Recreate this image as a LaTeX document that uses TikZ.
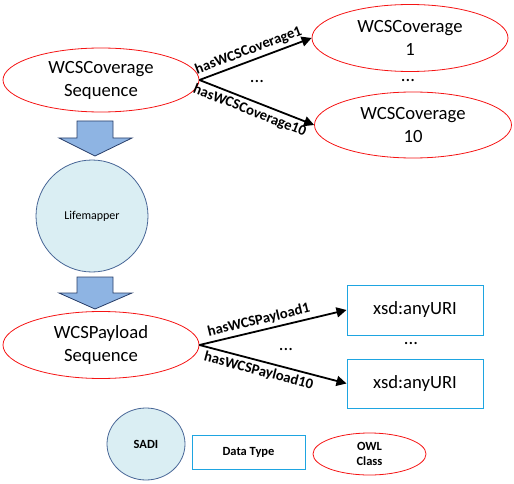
\documentclass[tikz,border=0pt]{standalone}
\usepackage{fontspec}
\setmainfont{Carlito}
\usetikzlibrary{shapes.geometric,arrows.meta}
\definecolor{owlred}{RGB}{245,20,20}
\definecolor{typeblue}{RGB}{30,165,225}
\definecolor{sadifill}{RGB}{218,238,243}
\definecolor{sadiline}{RGB}{72,102,150}
\definecolor{stepfill}{RGB}{142,180,227}
\definecolor{stepline}{RGB}{40,62,105}

\begin{document}
\begin{tikzpicture}[x=1pt,y=-1pt,->,>={Triangle[length=10pt,width=10pt]}]
    \tikzstyle{every node}=[inner sep=0pt]
    \tikzstyle{owl class}=[ellipse,draw=owlred,line width=0.8pt,align=center,
        font=\fontsize{18.67}{23}\selectfont]
    \tikzstyle{data type}=[rectangle,draw=typeblue,line width=1pt,
        font=\fontsize{18.67}{23}\selectfont]
    \tikzstyle{sadi service}=[ellipse,draw=sadiline,fill=sadifill,line width=0.8pt,
        font=\fontsize{12}{14}\selectfont]
    \tikzstyle{property}=[line width=1.8pt,black]
    \tikzstyle{prop label}=[sloped,inner sep=1.5pt,font=\bfseries\fontsize{14.7}{16}\selectfont]
    \tikzstyle{dots}=[font=\fontsize{18.67}{23}\selectfont]
    \tikzstyle{legend}=[font=\bfseries\fontsize{12.5}{15}\selectfont,align=center]
    \tikzstyle{flow}=[-,draw=stepline,fill=stepfill,line width=0.8pt]

    \useasboundingbox (0,0) rectangle (514,484);

    % Coverage sequence and its members
    \node[owl class,minimum width=196pt,minimum height=64pt] (S) at (101,80) {WCSCoverage\\Sequence};
    \node[owl class,minimum width=196pt,minimum height=67pt] (C-1) at (410,38) {WCSCoverage\\1};
    \node[owl class,minimum width=197pt,minimum height=66pt] (C-10) at (413,125) {WCSCoverage\\10};
    \node[dots] (d-1) at (257,82) {...};
    \node[dots] (d-2) at (408,81) {...};

    \draw[property] (S.east) -- (C-1.west)
        node[prop label,pos=0.47,above=1.5pt] {hasWCSCoverage1};
    \draw[property] (S.east) -- (C-10.west)
        node[prop label,pos=0.47,below=1.5pt] {hasWCSCoverage10};

    % The service
    \node[sadi service,minimum width=112pt,minimum height=112pt] (L) at (92,216) {Lifemapper};

    % Block arrows into and out of the service
    \foreach \t / \h / \b in {121/138/156, 277/293/309}
        \draw[flow] (77,\t) -- (113,\t) -- (113,\h) -- (132,\h) -- (95,\b)
            -- (59,\h) -- (77,\h) -- cycle;

    % Payload sequence and its members
    \node[owl class,minimum width=196pt,minimum height=67pt] (P) at (101,345) {WCSPayload\\Sequence};
    \node[data type,minimum width=136pt,minimum height=50pt] (U-1) at (415,310) {xsd:anyURI};
    \node[data type,minimum width=136pt,minimum height=49pt] (U-10) at (415,383.5) {xsd:anyURI};
    \node[dots] (d-3) at (286,350) {...};
    \node[dots] (d-4) at (411,344) {...};

    \draw[property] (P.east) -- (U-1.west)
        node[prop label,pos=0.42,above=1.5pt] {hasWCSPayload1};
    \draw[property] (P.east) -- (U-10.west)
        node[prop label,pos=0.42,below=1.5pt] {hasWCSPayload10};

    % Legend
    \node[sadi service,legend,minimum width=78pt,minimum height=72pt] (k-1) at (146,444) {SADI};
    \node[data type,legend,minimum width=113pt,minimum height=34pt] (k-2) at (248.5,452) {Data Type};
    \node[owl class,legend,minimum width=113pt,minimum height=42pt] (k-3) at (369.5,454) {OWL\\Class};
\end{tikzpicture}
\end{document}
